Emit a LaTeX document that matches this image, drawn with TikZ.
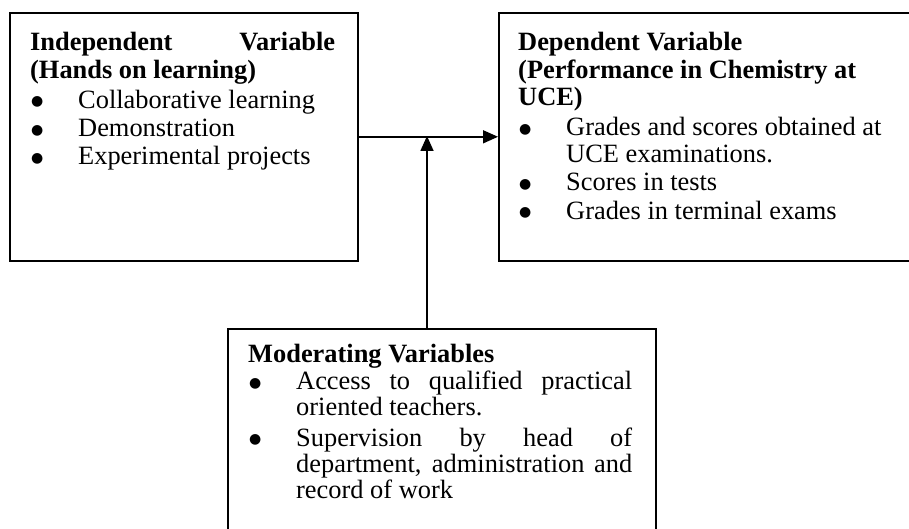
\documentclass[tikz,border=0pt]{standalone}
\usepackage{fontspec}
\setmainfont{Liberation Serif}
\newfontfamily\bulfont{DejaVu Sans}
\usetikzlibrary{arrows.meta}
\newcommand{\bulletmark}{\raisebox{2.5pt}{\bulfont\fontsize{14}{14}\selectfont ●}}
\newcommand{\bitem}[2][1pt]{\par\vspace{#1}\hangindent=48pt\hangafter=1\noindent\makebox[48pt][l]{\hspace{1pt}\bulletmark}#2}
\begin{document}
\begin{tikzpicture}[x=1pt,y=-1pt,
  frame/.style={draw, line width=1.6pt, anchor=north west, inner sep=0pt},
  txt/.style={anchor=base west, inner sep=0pt, font=\fontsize{26.4}{27.2}\selectfont},
  conn/.style={line width=1.6pt, -{Triangle[length=15pt,width=13pt]}}]
\clip (0,0) rectangle (909,529);
\fill[white] (0,0) rectangle (909,529);
% boxes
\node[frame, minimum width=348pt, minimum height=248pt] (iv) at (9,12) {};
\node[frame, minimum width=440pt, minimum height=248pt] (dv) at (498,12) {};
\node[frame, minimum width=428pt, minimum height=260pt] (mv) at (227,328) {};
% texts
\node[txt] (ivt) at (30,51) {\parbox[t]{305pt}{%
\textbf{Independent\hfill Variable}\\
\textbf{(Hands on learning)}%
\bitem[3pt]{Collaborative learning}%
\bitem{Demonstration}%
\bitem{Experimental projects}}};
\node[txt] (dvt) at (518,51) {\parbox[t]{375pt}{%
\textbf{Dependent Variable}\\
\textbf{(Performance in Chemistry at}\\
\textbf{UCE)}%
\bitem[3pt]{Grades and scores obtained at\\UCE examinations.}%
\bitem{Scores in tests}%
\bitem{Grades in terminal exams}}};
\node[txt] (mvt) at (248,362) {\parbox[t]{384pt}{\fontsize{26.4}{26.2}\selectfont
\textbf{Moderating Variables}%
\bitem[1.5pt]{Access to qualified practical\linebreak oriented teachers.}%
\bitem[4pt]{Supervision by head of\linebreak department, administration and\linebreak record of work}}};
% connectors
\coordinate (j) at (427,136);
\draw[conn] (iv.east) -- (dv.west);
\draw[conn] (mv.north -| j) -- (j);
\end{tikzpicture}
\end{document}
